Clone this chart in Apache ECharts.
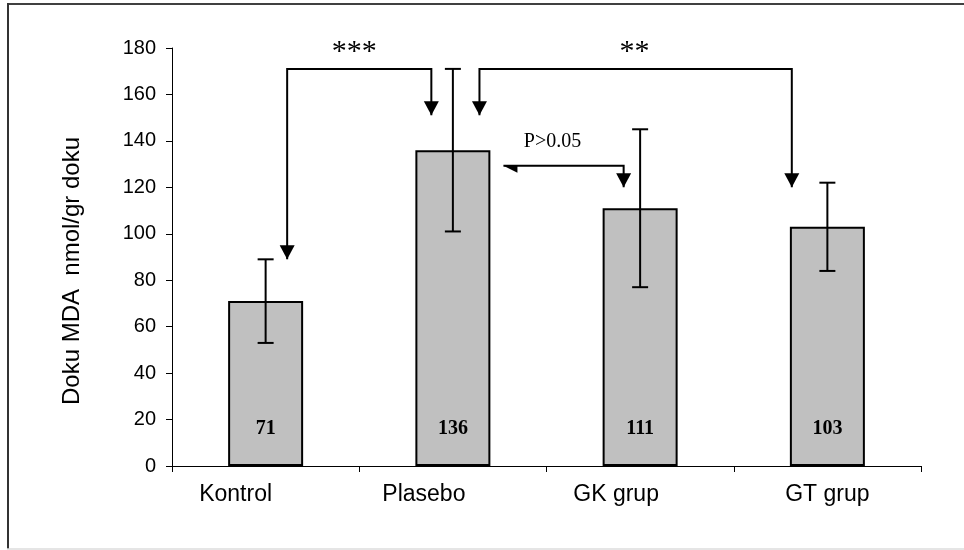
<!DOCTYPE html>
<html>
<head>
<meta charset="utf-8">
<script src="https://cdn.jsdelivr.net/npm/echarts@6/dist/echarts.min.js"></script>
<style>
html, body { margin: 0; padding: 0; background: #fff; }
#chart { width: 964px; height: 550px; }
</style>
</head>
<body>
<div id="chart"></div>
<script>
// bar data
const categories = ['Kontrol', 'Plasebo', 'GK grup', 'GT grup']
const means = [71, 136, 111, 103]
const errLow = [53, 101, 77, 84]
const errHigh = [89, 171, 145, 122]

// comparison arrows, in (category position, value) units, tip to tip
const arrowPaths = [
  [[0.115, 89], [0.115, 171], [0.885, 171], [0.885, 151]],
  [[1.142, 151], [1.142, 171], [2.81, 171], [2.81, 120]],
  [[1.27, 129.3], [1.912, 129.3], [1.912, 120]]
]
const arrowHeads = [['full', 'full'], ['full', 'full'], ['half', 'full']]

// significance notes
const noteLabels = ['***', '**', 'P>0.05']
const noteX = [0.473, 1.97, 1.532]
const noteY = [178.3, 178.3, 139.6]

const myChart = echarts.init(document.getElementById('chart'))

// the category labels in the original sit left of their bars (px)
const labelShift = [30, 29, 24, 0]

function head(p, from, kind) {
  let dx = p[0] - from[0], dy = p[1] - from[1]
  let len = Math.sqrt(dx * dx + dy * dy) || 1
  dx /= len; dy /= len
  const nx = -dy, ny = dx
  const bx = p[0] - dx * 14, by = p[1] - dy * 14
  let pts
  if (kind === 'half') {
    pts = [p, [bx, by], [bx - nx * 7, by - ny * 7]]
  } else {
    pts = [p, [bx + nx * 7.5, by + ny * 7.5], [bx - nx * 7.5, by - ny * 7.5]]
  }
  return { type: 'polygon', shape: { points: pts }, style: { fill: '#000' } }
}

const rich = {}
labelShift.forEach((s, i) => {
  rich['c' + i] = {
    color: '#000', fontFamily: 'Liberation Sans', fontSize: 23,
    padding: [0, s * 2, 0, 0]
  }
})

const option = {
  animation: false,
  backgroundColor: '#fff',
  grid: { left: 172, right: 43, top: 48, bottom: 84 },
  xAxis: [
    {
      type: 'category',
      data: categories,
      axisLine: { lineStyle: { color: '#000', width: 1 } },
      axisTick: { show: true, length: 6, lineStyle: { color: '#000' } },
      axisLabel: {
        margin: 17,
        formatter: function (val, idx) {
          return '{c' + idx + '|' + val + '}'
        },
        rich: rich
      }
    },
    { type: 'value', min: -0.5, max: 3.5, show: false }
  ],
  yAxis: {
    type: 'value',
    min: 0,
    max: 180,
    interval: 20,
    splitLine: { show: false },
    axisLine: { show: true, onZero: false, lineStyle: { color: '#000', width: 1 } },
    axisTick: { show: true, length: 6, lineStyle: { color: '#000' } },
    axisLabel: { color: '#000', fontFamily: 'Liberation Sans', fontSize: 20, margin: 16 }
  },
  graphic: [
    { type: 'line', shape: { x1: 7, y1: 4, x2: 964, y2: 4 }, style: { stroke: '#000', lineWidth: 1.5 } },
    { type: 'line', shape: { x1: 8, y1: 3, x2: 8, y2: 549 }, style: { stroke: '#333', lineWidth: 2 } },
    { type: 'line', shape: { x1: 7, y1: 549, x2: 964, y2: 549 }, style: { stroke: '#ddd', lineWidth: 1.5 } },
    {
      type: 'text', x: 72, y: 271, rotation: Math.PI / 2,
      style: {
        text: 'Doku MDA  nmol/gr doku', fill: '#000',
        font: '24px "Liberation Sans"', textAlign: 'center', textVerticalAlign: 'middle'
      }
    }
  ],
  series: [
    {
      type: 'bar',
      data: means,
      barWidth: 75,
      itemStyle: { color: '#c0c0c0', borderColor: '#000', borderWidth: 2 },
      label: {
        show: true,
        position: 'insideBottom',
        distance: 27,
        color: '#000',
        fontFamily: 'Liberation Serif',
        fontWeight: 'bold',
        fontSize: 20
      },
      z: 2
    },
    {
      type: 'custom',
      data: means.map((m, i) => [i, errLow[i], errHigh[i]]),
      z: 3,
      renderItem(params, api) {
        const lo = api.coord([api.value(0), api.value(1)])
        const hi = api.coord([api.value(0), api.value(2)])
        const w = 8
        const st = { stroke: '#000', lineWidth: 2 }
        return {
          type: 'group',
          children: [
            { type: 'line', shape: { x1: hi[0], y1: hi[1], x2: lo[0], y2: lo[1] }, style: st },
            { type: 'line', shape: { x1: hi[0] - w, y1: hi[1], x2: hi[0] + w, y2: hi[1] }, style: st },
            { type: 'line', shape: { x1: lo[0] - w, y1: lo[1], x2: lo[0] + w, y2: lo[1] }, style: st }
          ]
        }
      }
    },
    {
      type: 'custom',
      xAxisIndex: 1,
      data: arrowPaths.map((p, i) => [i]),
      z: 4,
      renderItem(params, api) {
        const i = params.dataIndex
        const pts = arrowPaths[i].map(p => api.coord(p))
        const n = pts.length
        return {
          type: 'group',
          children: [
            { type: 'polyline', shape: { points: pts }, style: { stroke: '#000', lineWidth: 2, fill: null } },
            head(pts[0], pts[1], arrowHeads[i][0]),
            head(pts[n - 1], pts[n - 2], arrowHeads[i][1])
          ]
        }
      }
    },
    {
      type: 'custom',
      xAxisIndex: 1,
      data: noteLabels.map((t, i) => [noteX[i], noteY[i]]),
      z: 4,
      renderItem(params, api) {
        const p = api.coord([api.value(0), api.value(1)])
        const t = noteLabels[params.dataIndex]
        const size = t.indexOf('*') === 0 ? 30 : 20
        return {
          type: 'text',
          x: p[0], y: p[1],
          style: {
            text: t, fill: '#000',
            font: size + 'px "Liberation Serif"',
            textAlign: 'center', textVerticalAlign: 'middle'
          }
        }
      }
    }
  ]
}
myChart.setOption(option)
</script>
</body>
</html>
